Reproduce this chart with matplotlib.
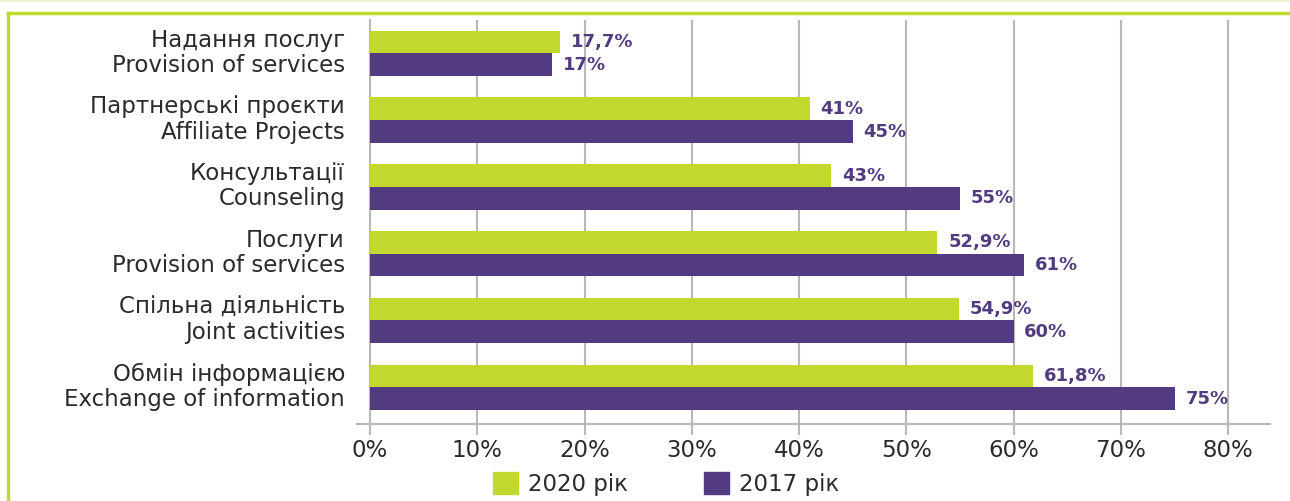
import numpy as np
import matplotlib.pyplot as plt
import matplotlib.transforms as mtransforms
from matplotlib.patches import Patch
from matplotlib.lines import Line2D

# data
categories = [
    "Надання послуг\nProvision of services",
    "Партнерські проєкти\nAffiliate Projects",
    "Консультації\nCounseling",
    "Послуги\nProvision of services",
    "Спільна діяльність\nJoint activities",
    "Обмін інформацією\nExchange of information",
]
values_2020 = [17.7, 41, 43, 52.9, 54.9, 61.8]
values_2017 = [17, 45, 55, 61, 60, 75]
labels_2020 = ["17,7%", "41%", "43%", "52,9%", "54,9%", "61,8%"]
labels_2017 = ["17%", "45%", "55%", "61%", "60%", "75%"]
series_names = ["2020 рік", "2017 рік"]

green = "#c2d82e"
purple = "#523b80"
grid_c = "#b8b8b8"
text_c = "#2b2b2b"

plt.rcParams['font.family'] = ['DejaVu Sans']

fig = plt.figure(figsize=(12.9, 5.01), dpi=100)
ax = fig.add_axes([370 / 1290, 1 - 424 / 501, 900 / 1290, 404 / 501])

y = np.arange(len(categories))
h = 0.34
ax.barh(y - h / 2, values_2020, height=h, color=green, zorder=3)
ax.barh(y + h / 2, values_2017, height=h, color=purple, zorder=3)

for i in range(len(categories)):
    ax.text(values_2020[i] + 1.0, y[i] - h / 2, labels_2020[i], va="center", ha="left",
            color=purple, fontsize=13, fontweight="bold", zorder=4)
    ax.text(values_2017[i] + 1.0, y[i] + h / 2, labels_2017[i], va="center", ha="left",
            color=purple, fontsize=13, fontweight="bold", zorder=4)

ax.set_xlim(0, 83.9)
ax.set_ylim(len(categories) - 0.45, -0.5)
ax.set_xticks(np.arange(0, 81, 10))
ax.set_xticklabels([f"{v}%" for v in range(0, 81, 10)], fontsize=16.5, color=text_c)
ax.set_yticks(y)
ax.set_yticklabels(categories, fontsize=16.5, color=text_c, linespacing=1.12)
ax.tick_params(axis="y", length=0, pad=18)
ax.tick_params(axis="x", length=8, width=1.5, color=grid_c, pad=3)

# category labels sit a little above the bar pair centre
shift = mtransforms.ScaledTranslation(0, 3 / 72, fig.dpi_scale_trans)
for lab in ax.get_yticklabels():
    lab.set_transform(lab.get_transform() + shift)

ax.grid(axis="x", color=grid_c, linewidth=1.5, zorder=0)
for s in ["top", "right"]:
    ax.spines[s].set_visible(False)
for s in ["left", "bottom"]:
    ax.spines[s].set_color(grid_c)
    ax.spines[s].set_linewidth(1.5)
ax.spines["bottom"].set_bounds(-1.2, 83.9)

# green frame lines
fig.add_artist(Line2D([8 / 1290, 1], [1 - 13 / 501, 1 - 13 / 501], color=green, linewidth=2.5))
fig.add_artist(Line2D([8 / 1290, 8 / 1290], [0, 1 - 13 / 501], color=green, linewidth=2.5))
fig.add_artist(Line2D([0, 1], [1 - 1 / 501, 1 - 1 / 501], color="#eef3d0", linewidth=1.5))

handles = [Patch(color=green), Patch(color=purple)]
fig.legend(handles, series_names, loc="center", bbox_to_anchor=(666 / 1290, 1 - 484 / 501),
           ncol=2, frameon=False, fontsize=16.5, handlelength=1.1, handleheight=1.1,
           columnspacing=3.3, handletextpad=0.45, labelcolor=text_c)

fig.savefig("out.png", dpi=100)
